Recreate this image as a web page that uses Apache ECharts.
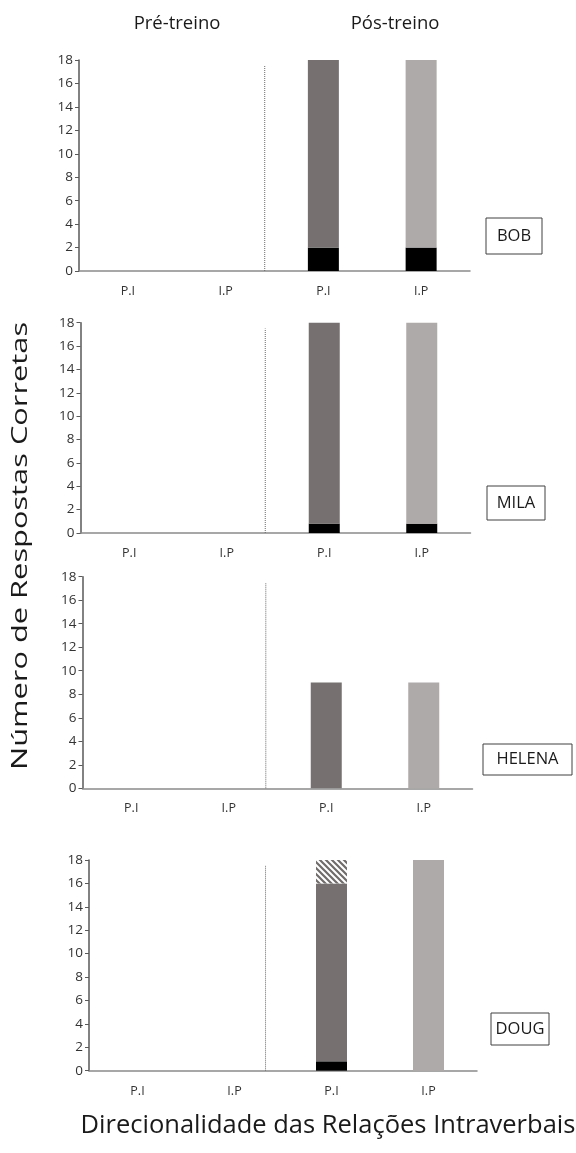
<!DOCTYPE html>
<html>
<head>
<meta charset="utf-8">
<script src="https://cdn.jsdelivr.net/npm/echarts@6/dist/echarts.min.js"></script>
<style>
  html, body { margin: 0; padding: 0; background: #fff; }
  #chart { width: 576px; height: 1153px; }
</style>
</head>
<body>
<div id="chart"></div>
<script>
// Categories along each panel's x axis (pre-training pair, post-training pair)
const categories = ['P.I', 'I.P', 'P.I', 'I.P'];
const participants = ['BOB', 'MILA', 'HELENA', 'DOUG'];

// Stacked segments per participant, one value per category
const blackSegment = [
  [0, 0, 2, 2],
  [0, 0, 0.8, 0.8],
  [0, 0, 0, 0],
  [0, 0, 0.8, 0]
];
const graySegment = [
  [0, 0, 16, 16],
  [0, 0, 17.2, 17.2],
  [0, 0, 9, 9],
  [0, 0, 15.2, 18]
];
const hatchedSegment = [
  [0, 0, 0, 0],
  [0, 0, 0, 0],
  [0, 0, 0, 0],
  [0, 0, 2, 0]
];

// y axis scale
const yMin = 0, yMax = 18, yStep = 2;

// Pre/post divider, in category units from the left of each panel
const dividerAt = [1.9, 1.895, 1.88, 1.82];
const dividerTop = 17.5;

const FONT = 'Open Sans';
const DARK = '#767170';
const LIGHT = '#aeaaa9';
const barColors = [DARK, LIGHT, DARK, LIGHT];

// Diagonal hatch pattern
function hatchPattern() {
  const s = 6;
  const c = document.createElement('canvas');
  c.width = s; c.height = s;
  const g = c.getContext('2d');
  g.fillStyle = '#ffffff';
  g.fillRect(0, 0, s, s);
  g.strokeStyle = '#706c6b';
  g.lineWidth = 2.2;
  g.beginPath();
  g.moveTo(-1, -1); g.lineTo(s + 1, s + 1);
  g.moveTo(-1, s - 1); g.lineTo(1, s + 1);
  g.moveTo(s - 1, -1); g.lineTo(s + 1, 1);
  g.stroke();
  return c;
}

// Panel plot areas
const panels = [
  { left: 79,  top: 60,  width: 391, height: 211 },
  { left: 80.5, top: 322.7, width: 390, height: 210.3 },
  { left: 82.5, top: 576.7, width: 390, height: 211.6 },
  { left: 89,  top: 860, width: 388, height: 210.7 }
];

// Participant name boxes
const nameBoxes = [
  { x: 486, y: 218, w: 56, h: 36 },
  { x: 487, y: 486, w: 58, h: 34 },
  { x: 483, y: 744, w: 89, h: 31 },
  { x: 491, y: 1013, w: 58, h: 32 }
];

const chart = echarts.init(document.getElementById('chart'), null, { renderer: 'canvas' });

const grid = [], xAxis = [], yAxis = [], series = [];
const pattern = { image: hatchPattern(), repeat: 'repeat' };

panels.forEach((p, i) => {
  grid.push({ left: p.left, top: p.top, width: p.width, height: p.height });
  xAxis.push({
    type: 'category', gridIndex: i, data: categories,
    axisLine: { lineStyle: { color: '#8a8a8a', width: 1.5 } },
    axisTick: { show: false },
    axisLabel: { color: '#333333', fontFamily: FONT, fontSize: 12.5, margin: 14 }
  });
  yAxis.push({
    type: 'value', gridIndex: i, min: yMin, max: yMax, interval: yStep,
    axisLine: { show: true, lineStyle: { color: '#595959', width: 1.5 } },
    axisTick: { show: true, length: 4, lineStyle: { color: '#595959', width: 1 } },
    axisLabel: { color: '#333333', fontFamily: FONT, fontSize: 13.5, margin: 6 },
    splitLine: { show: false }
  });
});
// hidden numeric x axes used to place the pre/post divider
panels.forEach((p, i) => {
  xAxis.push({ type: 'value', gridIndex: i, min: 0, max: 4, show: false });
});

panels.forEach((p, i) => {
  const stack = 'panel' + i;
  series.push({
    type: 'bar', xAxisIndex: i, yAxisIndex: i, stack, barWidth: 31,
    data: blackSegment[i], itemStyle: { color: '#000000' }, silent: true
  });
  series.push({
    type: 'bar', xAxisIndex: i, yAxisIndex: i, stack, barWidth: 31,
    data: graySegment[i].map((v, k) => ({ value: v, itemStyle: { color: barColors[k] } })),
    silent: true
  });
  series.push({
    type: 'bar', xAxisIndex: i, yAxisIndex: i, stack, barWidth: 31,
    data: hatchedSegment[i], itemStyle: { color: pattern },
    silent: true
  });
  series.push({
    type: 'line', xAxisIndex: 4 + i, yAxisIndex: i, symbol: 'none', silent: true,
    data: [[dividerAt[i], 0], [dividerAt[i], dividerTop]],
    lineStyle: { color: '#6a6a6a', width: 1, type: 'dotted' }
  });
});

const graphic = [
  { type: 'text', x: 177, y: 24, style: { text: 'Pré-treino', font: '18.5px "' + FONT + '"', fill: '#1a1a1a', textAlign: 'center', textVerticalAlign: 'middle' } },
  { type: 'text', x: 395, y: 24, style: { text: 'Pós-treino', font: '18.5px "' + FONT + '"', fill: '#1a1a1a', textAlign: 'center', textVerticalAlign: 'middle' } },
  { type: 'text', x: 21, y: 546, rotation: Math.PI / 2, scaleX: 1.4,
    style: { text: 'Número de Respostas Corretas', font: '22px "' + FONT + '"', fill: '#1a1a1a', textAlign: 'center', textVerticalAlign: 'middle' } },
  { type: 'text', x: 328, y: 1126,
    style: { text: 'Direcionalidade das Relações Intraverbais', font: '25.5px "' + FONT + '"', fill: '#1a1a1a', textAlign: 'center', textVerticalAlign: 'middle' } }
];
nameBoxes.forEach((b, i) => {
  graphic.push({ type: 'rect', shape: { x: b.x, y: b.y, width: b.w, height: b.h },
    style: { fill: '#fff', stroke: '#404040', lineWidth: 1 } });
  graphic.push({ type: 'text', x: b.x + b.w / 2, y: b.y + b.h / 2,
    style: { text: participants[i], font: '16.5px "' + FONT + '"', fill: '#1a1a1a', textAlign: 'center', textVerticalAlign: 'middle' } });
});

chart.setOption({
  animation: false,
  backgroundColor: '#ffffff',
  grid, xAxis, yAxis, series, graphic
});
</script>
</body>
</html>
